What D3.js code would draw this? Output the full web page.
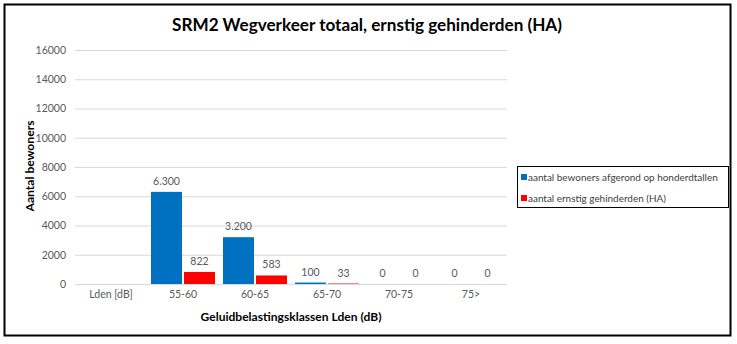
<!DOCTYPE html>
<html><head><meta charset="utf-8">
<script src="https://cdn.jsdelivr.net/npm/d3@7"></script>
<style>body{margin:0;background:#fff}svg{display:block}</style>
</head><body>
<script>
const categories = ["Lden [dB]", "55-60", "60-65", "65-70", "70-75", "75>"];
const seriesNames = ["aantal bewoners afgerond op honderdtallen", "aantal ernstig gehinderden (HA)"];
const bewoners = [null, 6300, 3200, 100, 0, 0];
const gehinderden = [null, 822, 583, 33, 0, 0];
const bewonersLabels = ["", "6.300", "3.200", "100", "0", "0"];
const gehinderdenLabels = ["", "822", "583", "33", "0", "0"];
const yTicks = [0, 2000, 4000, 6000, 8000, 10000, 12000, 14000, 16000];
const colors = ["#0070C0", "#FF0000"];

const W = 737, H = 344;
const FONT = "Lato, 'Open Sans', sans-serif";
const svg = d3.select("body").append("svg").attr("width", W).attr("height", H);

svg.append("rect").attr("x", 4.5).attr("y", 4.5).attr("width", 726).attr("height", 331)
  .attr("fill", "#fff").attr("stroke", "#000").attr("stroke-width", 2);

const x0 = d3.scaleBand().domain(categories).range([75, 507]);
const x1 = d3.scaleBand().domain([0, 1]).range([4, 68]).paddingInner(0.06);
const y = d3.scaleLinear().domain([0, 16000]).range([284, 50]);

function fit(sel, target) {
  const n = sel.node();
  let fs = parseFloat(sel.attr("font-size"));
  const w = n.getComputedTextLength();
  if (w > 0) sel.attr("font-size", (fs * target / w).toFixed(2));
}

// gridlines
svg.append("g").selectAll("line").data(yTicks).join("line")
  .attr("x1", 75).attr("x2", 507).attr("y1", d => y(d) + 0.5).attr("y2", d => y(d) + 0.5)
  .attr("stroke", "#D9D9D9").attr("stroke-width", 1);

// y axis
const yAxis = svg.append("g").attr("transform", "translate(66,0)")
  .call(d3.axisLeft(y).tickValues(yTicks).tickSize(0).tickPadding(0).tickFormat(d3.format("d")));
yAxis.select(".domain").remove();
yAxis.selectAll("text").attr("fill", "#595959").attr("font-family", FONT).attr("font-size", 10.5);

// x axis
const xAxis = svg.append("g").attr("transform", "translate(0,291)")
  .call(d3.axisBottom(x0).tickSize(0).tickPadding(0));
xAxis.select(".domain").remove();
xAxis.selectAll("text").attr("fill", "#595959").attr("font-family", FONT).attr("font-size", 10.5);

// bars
const series = [bewoners, gehinderden];
const labels = [bewonersLabels, gehinderdenLabels];
series.forEach((vals, si) => {
  const g = svg.append("g");
  categories.forEach((c, i) => {
    if (vals[i] === null) return;
    const xb = x0(c) + x1(si);
    g.append("rect").attr("x", xb).attr("width", x1.bandwidth())
      .attr("y", y(vals[i])).attr("height", y(0) - y(vals[i])).attr("fill", colors[si]);
    g.append("text").attr("x", xb + x1.bandwidth() / 2).attr("y", y(vals[i]) - 7)
      .attr("text-anchor", "middle").attr("fill", "#595959")
      .attr("font-family", FONT).attr("font-size", 10.5).text(labels[si][i]);
  });
});

// title
const t = svg.append("text").attr("x", 367).attr("y", 31).attr("text-anchor", "middle")
  .attr("font-family", FONT).attr("font-weight", "bold").attr("font-size", 18).attr("fill", "#000")
  .text("SRM2 Wegverkeer totaal, ernstig gehinderden (HA)");
fit(t, 390);

// y title
const yt = svg.append("text").attr("transform", "translate(34,166) rotate(-90)").attr("text-anchor", "middle")
  .attr("font-family", FONT).attr("font-weight", "bold").attr("font-size", 13).attr("fill", "#000")
  .text("Aantal bewoners");
fit(yt, 91);

// x title
const xt = svg.append("text").attr("x", 291).attr("y", 321).attr("text-anchor", "middle")
  .attr("font-family", FONT).attr("font-weight", "bold").attr("font-size", 13).attr("fill", "#000")
  .text("Geluidbelastingsklassen Lden (dB)");
fit(xt, 181);

// legend
const lg = svg.append("g");
lg.append("rect").attr("x", 517.5).attr("y", 166.5).attr("width", 211).attr("height", 41)
  .attr("fill", "#fff").attr("stroke", "#000").attr("stroke-width", 1);
let legendFs = 10;
seriesNames.forEach((s, i) => {
  const yy = 177 + i * 21;
  lg.append("rect").attr("x", 521).attr("y", yy - 3).attr("width", 6).attr("height", 6).attr("fill", colors[i]);
  const tt = lg.append("text").attr("x", 528).attr("y", yy + 3.5)
    .attr("font-family", FONT).attr("font-size", legendFs).attr("fill", "#404040").text(s);
  if (i === 0) { fit(tt, 190); legendFs = tt.attr("font-size"); }
});
</script>
</body></html>
